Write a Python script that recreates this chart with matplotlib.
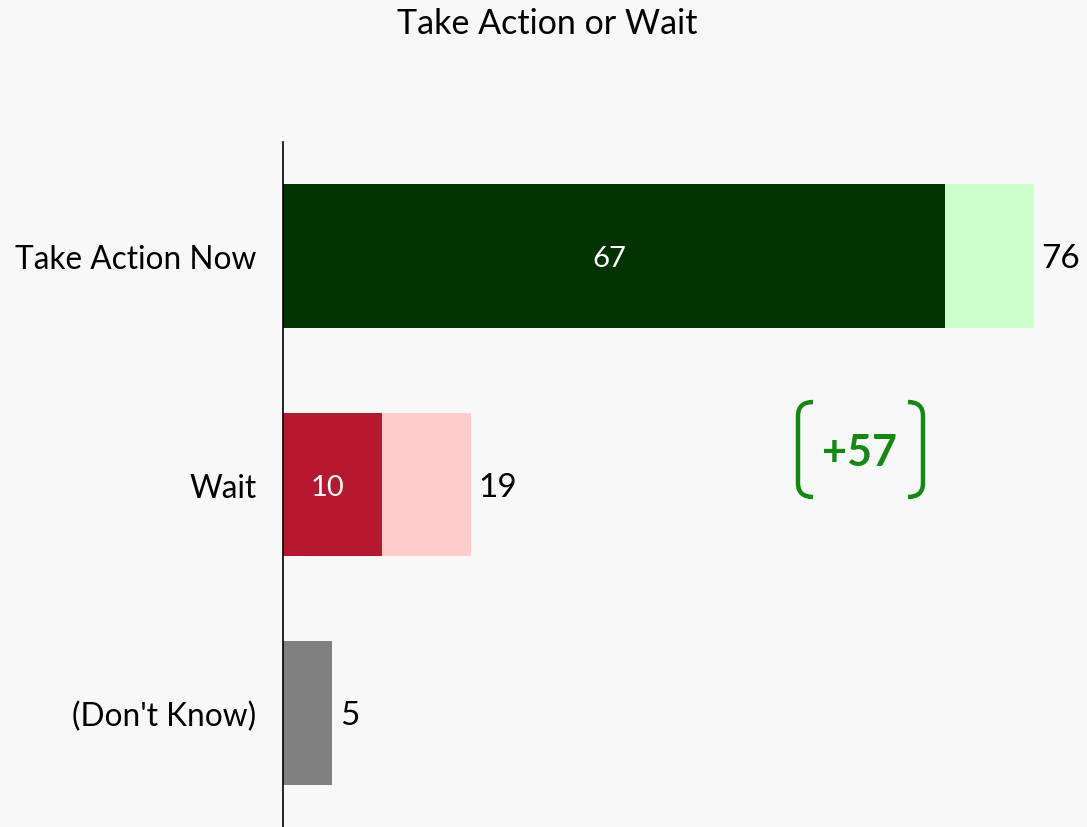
import matplotlib
matplotlib.use("Agg")
import matplotlib.pyplot as plt
from matplotlib.path import Path
from matplotlib.patches import PathPatch

categories = ["Take Action Now", "Wait", "(Don't Know)"]
strong_vals = [67, 10, 5]
total_vals = [76, 19, 5]
strong_colors = ["#003300", "#b5182f", "#808080"]
light_colors = ["#ccffcc", "#ffcccc", "#808080"]
title = "Take Action or Wait"
margin_text = "+57"

plt.rcParams['font.family'] = ['Lato', 'DejaVu Sans']
bg = "#f8f8f8"
fig = plt.figure(figsize=(10.87, 8.28), dpi=100, facecolor=bg)
ax = fig.add_axes([283/1087, 0, 1 - 283/1087, 1 - 143/828])
ax.set_facecolor(bg)

ys = list(range(len(categories)))
h = 0.63
for y, s, t, sc, lc in zip(ys, strong_vals, total_vals, strong_colors, light_colors):
    ax.barh(y, t, height=h, color=lc, left=0)
    ax.barh(y, s, height=h, color=sc, left=0)
    if s != t:
        ax.text(s / 2 - 0.45, y + 0.01, str(s), color="white", ha="center", va="center", fontsize=21)
    ax.text(t + 0.75, y + 0.01, str(t), color="black", ha="left", va="center", fontsize=24)

ax.set_xlim(0, (1087 - 283) / 9.88)
ax.set_ylim(len(categories) - 0.5, -0.5)
ax.set_yticks(ys)
ax.set_yticklabels(categories, fontsize=22.8)
ax.tick_params(axis='y', length=0, pad=19)
ax.set_xticks([])
for sp in ["top", "right", "bottom"]:
    ax.spines[sp].set_visible(False)
ax.spines["left"].set_linewidth(1.2)
ax.spines["left"].set_color("black")

fig.text(547/1087, 1 - 24/828, title, ha="center", va="center", fontsize=24.5)

# margin annotation with brackets (figure pixel coordinates)
green = "#128a12"
def px(x, y):
    return (x / 1087, 1 - y / 828)

def bracket(x_edge, x_tip, y_top, y_bot, r):
    verts = [px(x_tip, y_top), px(x_edge, y_top), px(x_edge, y_top + r),
             px(x_edge, y_bot - r), px(x_edge, y_bot), px(x_tip, y_bot)]
    codes = [Path.MOVETO, Path.CURVE3, Path.CURVE3, Path.LINETO, Path.CURVE3, Path.CURVE3]
    return PathPatch(Path(verts, codes), transform=fig.transFigure, fill=False,
                     edgecolor=green, linewidth=3.2, capstyle='butt')

fig.add_artist(bracket(798, 813, 403, 498, 14))
fig.add_artist(bracket(923, 908, 403, 498, 14))
fig.text(*px(860, 453), margin_text, ha="center", va="center", fontsize=31,
         fontweight="bold", color=green)

fig.savefig("out.png", dpi=100, facecolor=bg)
